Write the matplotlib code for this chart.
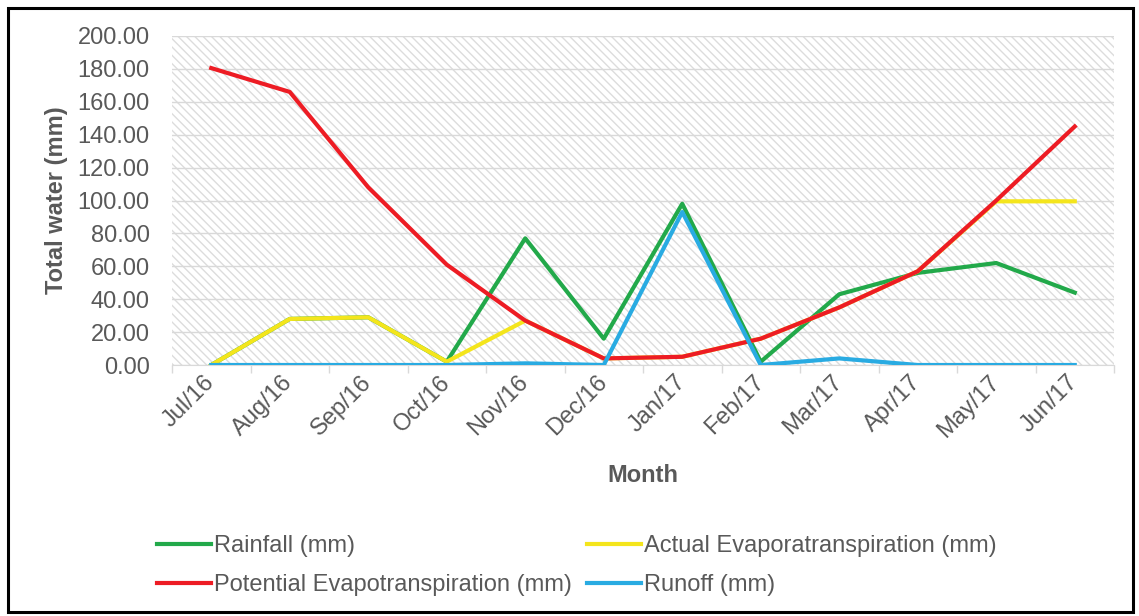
import matplotlib
matplotlib.use("Agg")
import matplotlib.pyplot as plt
from matplotlib.patches import Rectangle
import numpy as np

plt.rcParams['font.family'] = ['Liberation Sans', 'DejaVu Sans']
plt.rcParams['hatch.linewidth'] = 1.0

months = ['Jul/16', 'Aug/16', 'Sep/16', 'Oct/16', 'Nov/16', 'Dec/16',
          'Jan/17', 'Feb/17', 'Mar/17', 'Apr/17', 'May/17', 'Jun/17']
rainfall = [0, 28, 29, 2, 77, 16, 98, 2, 43, 56, 62, 44]
actual_et = [0, 28, 29, 2, 27, 4, 5, 16, 35, 57, 99.5, 99.5]
potential_et = [180.5, 166, 108, 61, 27, 4, 5, 16, 35, 57, 100, 145]
runoff = [0, 0, 0, 0, 1, 0, 93, 0, 4, 0, 0, 0]
yticks = [0, 20, 40, 60, 80, 100, 120, 140, 160, 180, 200]

txt = '#595959'
W, H = 1139, 616
fig = plt.figure(figsize=(W / 100, H / 100), dpi=100)
ax = fig.add_axes([172 / W, (H - 365) / H, 942 / W, 329 / H])

x = np.arange(len(months))
# light downward diagonal pattern behind the plot
ax.add_patch(Rectangle((0, 0), 1, 1, transform=ax.transAxes, facecolor='white',
                       edgecolor='#dcdcdc', hatch='\\\\\\\\', lw=0, zorder=0))

l_rain, = ax.plot(x, rainfall, color='#22a94a', lw=3, zorder=3)
l_aet, = ax.plot(x, actual_et, color='#f4e51c', lw=3, zorder=4)
l_pet, = ax.plot(x, potential_et, color='#ed1c24', lw=3, zorder=5)
l_run, = ax.plot(x, runoff, color='#29abe2', lw=3, zorder=6)

ax.set_xlim(-0.5, len(months) - 0.5)
ax.set_ylim(0, 200)
ax.set_yticks(yticks)
ax.set_yticklabels(['%.2f' % v for v in yticks])
ax.yaxis.grid(True, color='#d9d9d9', lw=1)
ax.set_axisbelow(True)
ax.tick_params(axis='y', length=0, pad=16, labelsize=17, labelcolor=txt)

ax.set_xticks(x)
ax.set_xticklabels(months, rotation=45, ha='right', va='center',
                   rotation_mode='anchor')
ax.set_xticks(np.arange(len(months) + 1) - 0.5, minor=True)
ax.tick_params(axis='x', which='major', length=0, pad=10, labelsize=17,
               labelcolor=txt)
ax.tick_params(axis='x', which='minor', length=6, color='#d9d9d9', width=1)

for s in ['top', 'right', 'left']:
    ax.spines[s].set_visible(False)
ax.spines['bottom'].set_color('#d9d9d9')

fig.text(57 / W, 1 - 200 / H, 'Total water (mm)', rotation=90, ha='center',
         va='center', fontsize=17, fontweight='bold', color=txt)
fig.text(643 / W, 1 - 476 / H, 'Month', ha='center', va='center',
         fontsize=17, fontweight='bold', color=txt)

leg = fig.legend([l_rain, l_pet, l_aet, l_run],
                 ['Rainfall (mm)', 'Potential Evapotranspiration (mm)',
                  'Actual Evaporatranspiration (mm)', 'Runoff (mm)'],
                 ncol=2, loc='upper left', bbox_to_anchor=(157 / W, 1 - 535 / H),
                 frameon=False, fontsize=17, handlelength=2.3,
                 handletextpad=0.1, columnspacing=0.65, labelspacing=0.72,
                 borderaxespad=0, borderpad=0)
for t in leg.get_texts():
    t.set_color(txt)

fig.add_artist(Rectangle((8 / W, 4 / H), (W - 14) / W, (H - 12) / H,
                         transform=fig.transFigure, fill=False,
                         edgecolor='black', lw=2.2))

fig.savefig('out.png', dpi=100)
